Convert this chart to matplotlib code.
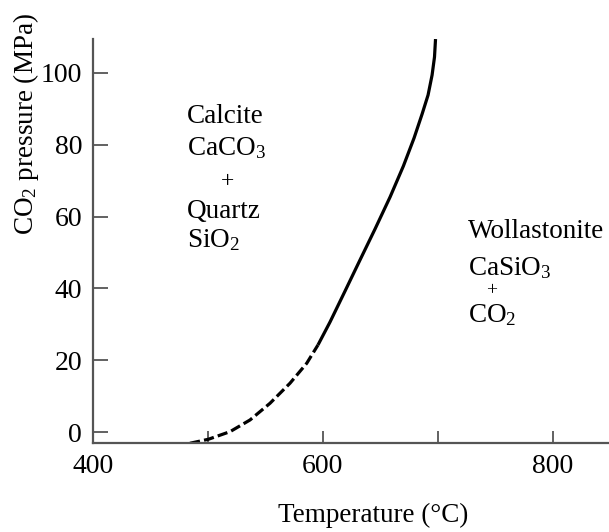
import matplotlib
matplotlib.use("Agg")
import matplotlib.pyplot as plt

plt.rcParams["font.family"] = ["Liberation Serif", "DejaVu Serif"]
plt.rcParams["mathtext.default"] = "regular"

# Equilibrium curve CaCO3 + SiO2 = CaSiO3 + CO2 (dashed: extrapolated part)
temp_dashed = [484.2, 500.2, 519.1, 536.5, 553.9, 571.3, 585.9, 595.7]
press_dashed = [-3.06, -1.95, 0.17, 3.42, 8.06, 13.63, 19.19, 24.28]
temp_solid = [595.7, 606.2, 619.3, 632.3, 645.4, 658.5, 670.1, 679.4,
              686.4, 691.6, 695.1, 697.2, 698.1]
press_solid = [24.28, 30.67, 39.29, 47.91, 56.53, 65.43, 74.05, 81.84,
               88.51, 93.8, 99.36, 104.37, 109.37]

x_ticks = [400, 500, 600, 700, 800]
x_ticklabels = ["400", "", "600", "", "800"]
y_ticks = [0, 20, 40, 60, 80, 100]
y_ticklabels = ["0", "20", "40", "60", "80", "100"]

W, H = 609, 532
fig = plt.figure(figsize=(W / 100, H / 100), dpi=100)
ax = fig.add_axes([93.3 / W, 1 - 442.7 / H, (W - 93.3) / W, (442.7 - 39.3) / H])

ax.plot(temp_dashed, press_dashed, color="black", lw=2.3,
        linestyle=(0, (3.2, 1.3)), dash_joinstyle="round")
ax.plot(temp_solid, press_solid, color="black", lw=2.3,
        solid_capstyle="butt", solid_joinstyle="round")

ax.set_xlim(400, 849.2)
ax.set_ylim(-2.9, 109.3)

for side in ("top", "right"):
    ax.spines[side].set_visible(False)
for side in ("left", "bottom"):
    ax.spines[side].set_color("#555555")
    ax.spines[side].set_linewidth(1.6)

ax.set_xticks(x_ticks)
ax.set_xticklabels(x_ticklabels)
ax.set_yticks(y_ticks)
ax.set_yticklabels(y_ticklabels)
ax.tick_params(axis="x", direction="in", length=8.5, width=1.3, colors="#555555",
               labelcolor="black", labelsize=20, pad=8)
ax.tick_params(axis="y", direction="in", length=10.5, width=1.3, colors="#555555",
               labelcolor="black", labelsize=20, pad=8)


def ptext(x, y, s, **kw):
    kw.setdefault("fontsize", 19.5)
    fig.text(x / W, 1 - y / H, s, **kw)


# Field labels
ptext(187, 123.3, "Calcite", va="baseline")
ptext(187, 155, "CaCO$_3$", va="baseline")
ptext(227, 182, "+", ha="center", va="center", fontsize=17)
ptext(187, 218, "Quartz", va="baseline")
ptext(187, 246.7, "SiO$_2$", va="baseline")

ptext(468, 238.3, "Wollastonite", va="baseline")
ptext(468, 275, "CaSiO$_3$", va="baseline")
ptext(491.5, 290.5, "+", ha="center", va="center", fontsize=14)
ptext(468, 321.7, "CO$_2$", va="baseline")

# Axis titles
ptext(373, 515, "Temperature (°C)", ha="center", va="center")
ptext(26, 124, "CO$_2$ pressure (MPa)", ha="center", va="center", rotation=90)

fig.savefig("out.png", dpi=100)
